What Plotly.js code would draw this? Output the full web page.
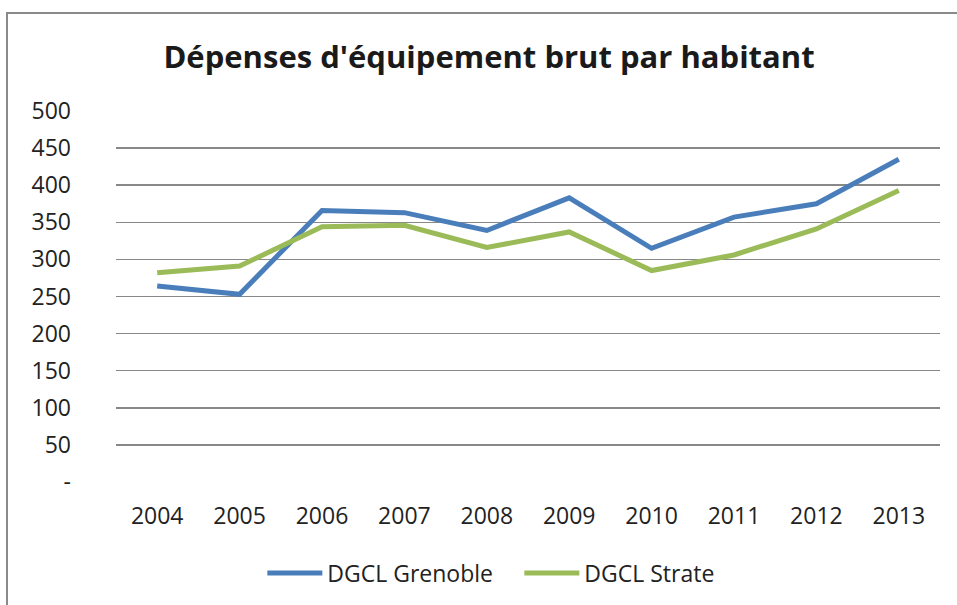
<!DOCTYPE html>
<html>
<head>
<meta charset="utf-8">
<script src="https://cdn.plot.ly/plotly-3.0.1.min.js"></script>
<style>
body{margin:0;padding:0;background:#fff;}
#wrap{position:relative;width:957px;height:605px;overflow:hidden;}
#frame{position:absolute;left:6px;top:12px;right:-5px;bottom:-5px;border-left:2px solid #8a8a8a;border-top:2px solid #8a8a8a;}
#plot{position:absolute;left:0;top:0;width:957px;height:605px;}
</style>
</head>
<body>
<div id="wrap"><div id="frame"></div><div id="plot"></div></div>
<script>
const years = ['2004','2005','2006','2007','2008','2009','2010','2011','2012','2013'];
const grenoble = [264, 253, 366, 363, 339, 383, 315, 357, 375, 435];
const strate = [282, 291, 344, 346, 316, 337, 285, 306, 341, 393];
const yTickVals = [0, 50, 100, 150, 200, 250, 300, 350, 400, 450, 500];
const yTickText = ['-', '50', '100', '150', '200', '250', '300', '350', '400', '450', '500'];

const font = 'Open Sans, Liberation Sans, Arial, sans-serif';
const data = [
  {x: years, y: grenoble, name: 'DGCL Grenoble', type: 'scatter', mode: 'lines',
   line: {color: '#4a7ebb', width: 5}},
  {x: years, y: strate, name: 'DGCL Strate', type: 'scatter', mode: 'lines',
   line: {color: '#9bbb59', width: 5}}
];
const layout = {
  width: 957, height: 605,
  margin: {l: 116, r: 17, t: 111, b: 122},
  paper_bgcolor: 'rgba(0,0,0,0)',
  plot_bgcolor: 'rgba(0,0,0,0)',
  title: {text: "Dépenses d'équipement brut par habitant",
    font: {family: font, size: 31, color: '#1a1a1a', weight: 'bold'},
    xref: 'container', x: 0.511, xanchor: 'center',
    yref: 'container', y: 0.906, yanchor: 'middle'},
  xaxis: {type: 'category', range: [-0.5, 9.5], showgrid: false, zeroline: false, showline: false,
    ticks: '', ticklabelstandoff: 18,
    tickfont: {family: font, size: 23, color: '#222'}},
  yaxis: {range: [0, 500], tickvals: yTickVals, ticktext: yTickText,
    showgrid: true, gridcolor: '#888888', gridwidth: 1.5, zeroline: false,
    showline: false, ticks: '', ticklabelstandoff: 44,
    tickfont: {family: font, size: 23, color: '#222'}},
  showlegend: true,
  legend: {orientation: 'h', x: 0.4895, xanchor: 'center', y: -0.242, yanchor: 'middle',
    font: {family: font, size: 23, color: '#222'}, itemwidth: 55, traceorder: 'normal',
    entrywidth: 187, entrywidthmode: 'pixels'}
};
Plotly.newPlot('plot', data, layout, {displayModeBar: false, staticPlot: true});
</script>
</body>
</html>
